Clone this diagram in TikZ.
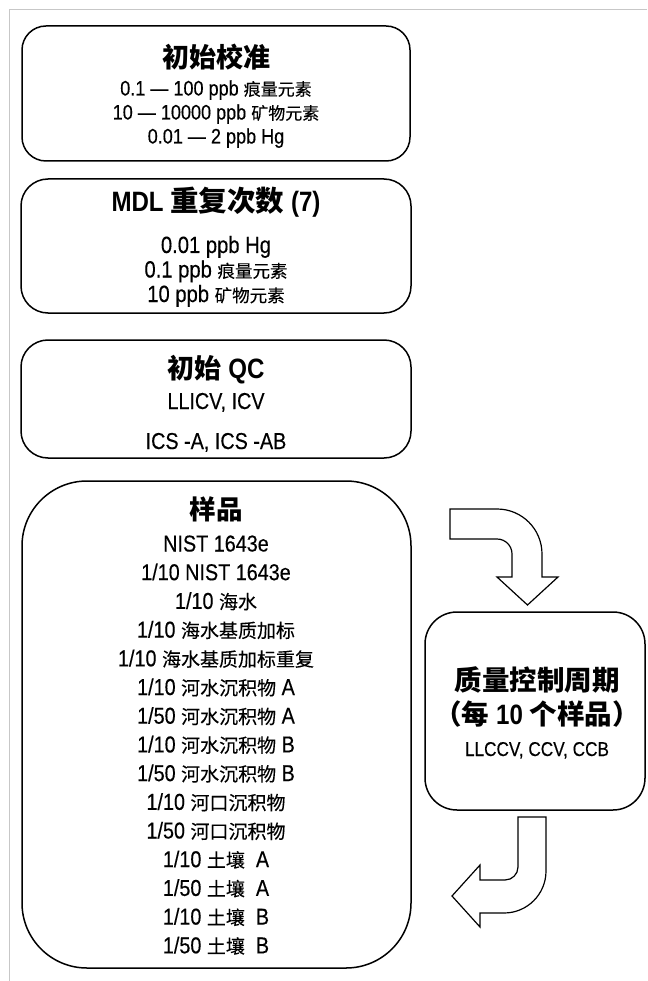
\documentclass[tikz,border=0pt]{standalone}
\usepackage{fontspec}
\setmainfont{Liberation Sans}[FakeStretch=0.86, UprightFeatures={FakeBold=0.3}]
\newfontfamily\cjk{Noto Sans CJK SC}[UprightFeatures={FakeBold=0.2}]
\newcommand\ZH[2]{{\cjk\fontsize{#1}{#1}\selectfont #2}}
\newcommand\ZHB[2]{{\cjk\bfseries\fontsize{#1}{#1}\selectfont #2}}
\newcommand\LT[1]{\fontsize{#1}{#1}\selectfont}
\tikzset{
  box/.style={draw, line width=1.5pt, rounded corners=#1, inner sep=0pt},
  txt/.style={anchor=base, inner sep=0pt},
  blockarrow/.style={draw, fill=white, line width=1.2pt, line join=miter},
  frameline/.style={draw=black!22, line width=1pt}
}
\begin{document}
\begin{tikzpicture}[x=1pt,y=-1pt]
\useasboundingbox[fill=white] (0,0) rectangle (647,981);
% light frame
\coordinate (fTL) at (9.5,9.5);
\coordinate (fTR) at (647,9.5);
\coordinate (fBL) at (9.5,981);
\draw[frameline] (fTR) -- (fTL) -- (fBL);

% boxes
\node[box=24, minimum width=388pt, minimum height=135pt] (b1) at (216,93.5) {};
\node[box=27, minimum width=390pt, minimum height=134pt] (b2) at (216,246) {};
\node[box=27, minimum width=390pt, minimum height=118pt] (b3) at (216,399) {};
\node[box=65, minimum width=389pt, minimum height=487pt] (b4) at (216.5,724.5) {};
\node[box=32, minimum width=220pt, minimum height=198pt] (b5) at (535,711) {};

% box 1 text
\node[txt] (t1) at (216,68) {\ZHB{27}{初始校准}};
\node[txt, font=\LT{21}] (t1a) at (216,95.5) {0.1 — 100 ppb \ZH{17}{痕量元素}};
\node[txt, font=\LT{21}] (t1b) at (216,119.5) {10 — 10000 ppb \ZH{17}{矿物元素}};
\node[txt, font=\LT{21}] (t1c) at (216,143.5) {0.01 — 2 ppb Hg};

% box 2 text
\node[txt, font=\LT{28}\bfseries] (t2) at (216,211.5) {MDL \ZHB{28.5}{重复次数} (7)};
\node[txt, font=\LT{23.5}] (t2a) at (216,253) {0.01 ppb Hg};
\node[txt, font=\LT{23.5}] (t2b) at (216,277.5) {0.1 ppb \ZH{17.5}{痕量元素}};
\node[txt, font=\LT{23.5}] (t2c) at (216,302) {10 ppb \ZH{17.5}{矿物元素}};

% box 3 text
\node[txt, font=\LT{28}\bfseries] (t3) at (216,378) {\ZHB{27}{初始} QC};
\node[txt, font=\LT{23}] (t3a) at (216,409) {LLICV, ICV};
\node[txt, font=\LT{23}] (t3b) at (216,449) {ICS -A, ICS -AB};

% box 4 text
\node[txt] (t4) at (216,519) {\ZHB{26.5}{样品}};
\foreach \i/\s in {
  0/{NIST 1643e},
  1/{1/10 NIST 1643e},
  2/{1/10 \ZH{19}{海水}},
  3/{1/10 \ZH{19}{海水基质加标}},
  4/{1/10 \ZH{19}{海水基质加标重复}},
  5/{1/10 \ZH{19}{河水沉积物} A},
  6/{1/50 \ZH{19}{河水沉积物} A},
  7/{1/10 \ZH{19}{河水沉积物} B},
  8/{1/50 \ZH{19}{河水沉积物} B},
  9/{1/10 \ZH{19}{河口沉积物}},
  10/{1/50 \ZH{19}{河口沉积物}},
  11/{1/10 \ZH{19}{土壤}\ \ A},
  12/{1/50 \ZH{19}{土壤}\ \ A},
  13/{1/10 \ZH{19}{土壤}\ \ B},
  14/{1/50 \ZH{19}{土壤}\ \ B}}
  \node[txt, font=\LT{23}] (s\i) at (216,551.5+28.7*\i) {\s};

% QC cycle box text
\node[txt] (t5) at (537,690) {\ZHB{27.5}{质量控制周期}};
\node[txt, font=\LT{28}\bfseries] (t5a) at (537,724) {\ZHB{27.5}{（每} 10 \ZHB{27.5}{个样品）}};
\node[txt, font=\LT{20}] (t5b) at (537,756) {LLCCV, CCV, CCB};

% block arrows
\draw[blockarrow] (450,509) -- (497,509) .. controls (521.9,509) and (542,529.1) .. (542,554)
  -- (542,577) -- (558,577) -- (527.5,605) -- (497,577) -- (512,577) -- (512,554)
  .. controls (512,545.7) and (505.3,539) .. (497,539) -- (450,539) -- cycle;
\draw[blockarrow] (518,817) -- (546,817) -- (546,871) .. controls (546,894.2) and (527.2,913) .. (504,913)
  -- (480,913) -- (480,927) -- (452,896) -- (480,865) -- (480,880) -- (505,880)
  .. controls (512.2,880) and (518,874.2) .. (518,867) -- cycle;
\end{tikzpicture}
\end{document}
